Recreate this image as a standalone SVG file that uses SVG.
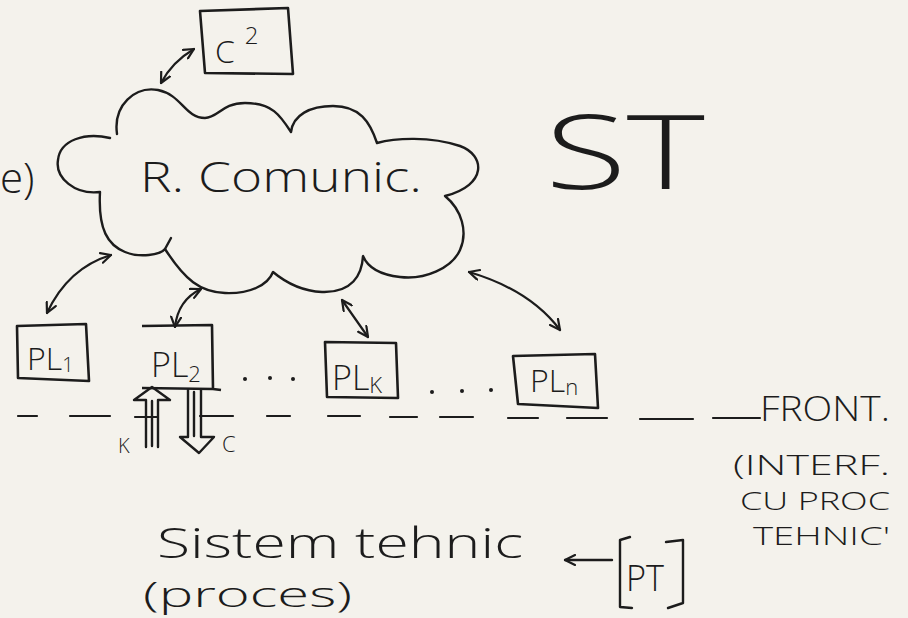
<svg xmlns="http://www.w3.org/2000/svg" width="908" height="618" viewBox="0 0 908 618">
  <defs>
    <marker id="ah" viewBox="0 0 12 12" refX="11" refY="6" markerWidth="12" markerHeight="12" markerUnits="userSpaceOnUse" orient="auto-start-reverse">
      <path d="M1,1 L11,6 L1,11" fill="none" stroke="#1c1c1c" stroke-width="2.2" stroke-linecap="round" stroke-linejoin="round"/>
    </marker>
    <style>
      .ink { fill: none; stroke: #1c1c1c; stroke-width: 2.4; stroke-linecap: round; stroke-linejoin: round; }
      .box { fill: none; stroke: #1c1c1c; stroke-width: 2.6; stroke-linejoin: round; }
      .arr { fill: none; stroke: #1c1c1c; stroke-width: 2.2; stroke-linecap: round; marker-start: url(#ah); marker-end: url(#ah); }
      .dash { stroke: #1c1c1c; stroke-width: 2.2; stroke-linecap: round; }
      .t { font-family: "Open Sans", "Liberation Sans", sans-serif; font-weight: 300; fill: #1c1c1c; }
      .dot { fill: #1c1c1c; }
    </style>
  </defs>
  <rect width="908" height="618" fill="#f4f2ec"/>

  <!-- Communication network cloud -->
  <g id="rcomunic">
    <path class="ink" d="M117,134 C113,105 135,86 158,90 C182,95 185,118 205,118 C218,118 222,103 245,103 C272,103 280,115 291,132 C293,115 310,106 333,106 C360,106 370,122 377,143 C395,138 430,136 460,146 C485,155 488,185 445,196 C462,210 468,232 460,250 C452,268 425,280 400,277 C382,275 368,268 363,256 C362,275 352,293 322,292 C300,291 285,282 273,272 C268,285 250,294 225,293 C200,292 185,280 165,249 C160,255 140,258 125,252 C108,245 98,230 100,192 C75,195 55,178 58,160 C60,140 85,132 110,138"/>
    <path class="ink" d="M165,249 L171,238"/>
    <text class="t" x="140" y="192" font-size="42" textLength="282" lengthAdjust="spacingAndGlyphs">R. Comunic.</text>
  </g>

  <g id="c2">
    <path class="box" d="M200,11 L288,8 L293,74 L205,73 Z"/>
    <text class="t" x="215" y="63" font-size="32">C<tspan dx="10" dy="-19" font-size="24">2</tspan></text>
  </g>

  <g id="pl1">
    <path class="box" d="M17,326 L86,324 L89,381 L18,378 Z"/>
    <text class="t" x="27" y="370" font-size="32">PL<tspan dy="2" font-size="20">1</tspan></text>
  </g>

  <g id="pl2">
    <path class="box" d="M142,326 L212,325 L213,389 L142,388 M213,389 L221,390"/>
    <text class="t" x="151" y="377" font-size="34">PL<tspan dy="5" font-size="22">2</tspan></text>
  </g>

  <g id="plk">
    <path class="box" d="M325,342 L396,343 L398,398 L327,397 Z"/>
    <text class="t" x="332" y="390" font-size="34">PL<tspan dy="3" font-size="22">K</tspan></text>
  </g>

  <g id="pln">
    <path class="box" d="M513,356 L595,354 L598,408 L518,404 Z"/>
    <text class="t" x="530" y="392" font-size="32">PL<tspan dy="3" font-size="22">n</tspan></text>
  </g>

  <g id="pt">
    <path class="ink" d="M630,537 L620,540 L620,607 L632,608"/>
    <path class="ink" d="M666,542 L683,540 L683,603 L668,608"/>
    <text class="t" x="626" y="591" font-size="36" textLength="38" lengthAdjust="spacingAndGlyphs">PT</text>
  </g>

  <g id="connectors">
    <path class="arr" d="M161,83 Q172,62 194,49"/>
    <path class="arr" d="M47,313 Q68,268 111,255"/>
    <path class="arr" d="M175,327 Q178,300 201,289"/>
    <path class="arr" d="M342,300 L368,337"/>
    <path class="arr" d="M469,272 Q530,290 560,330"/>
    <path class="ink" d="M612,560 L565,560" marker-end="url(#ah)"/>
    <!-- K: hollow arrow up -->
    <path class="ink" d="M146,447 L146,400 L134,400 L152,387 L170,400 L158,400 L158,447"/>
    <path class="ink" d="M152,401 L152,446" stroke-width="4"/>
    <!-- C: hollow arrow down -->
    <path class="ink" d="M188,390 L188,437 L180,437 L199,453 L214,437 L201,437 L201,390"/>
    <path class="ink" d="M194,392 L194,436" stroke-width="3"/>
  </g>

  <g id="front-line">
    <path class="dash" d="M18,416 H37 M70,416 H110 M135,417 H157 M200,416 H233 M267,416 H290 M328,416 H360 M390,417 H417 M440,417 H473 M508,418 H538 M567,418 H607 M640,419 H693 M713,418 H760"/>
  </g>

  <g id="dots">
    <circle class="dot" cx="245" cy="379" r="2"/>
    <circle class="dot" cx="270" cy="378" r="2"/>
    <circle class="dot" cx="293" cy="379" r="2"/>
    <circle class="dot" cx="432" cy="392" r="2"/>
    <circle class="dot" cx="462" cy="391" r="2"/>
    <circle class="dot" cx="491" cy="390" r="2"/>
  </g>

  <g id="labels">
    <text class="t" x="0" y="193" font-size="42">e)</text>
    <text class="t" x="545" y="189" font-size="104" textLength="160" lengthAdjust="spacingAndGlyphs">ST</text>
    <text class="t" x="118" y="453" font-size="20">K</text>
    <text class="t" x="222" y="452" font-size="22">C</text>
    <text class="t" x="760" y="421" font-size="34" textLength="130" lengthAdjust="spacingAndGlyphs">FRONT.</text>
    <text class="t" x="733" y="475" font-size="27" textLength="157" lengthAdjust="spacingAndGlyphs">(INTERF.</text>
    <text class="t" x="740" y="510" font-size="25" textLength="150" lengthAdjust="spacingAndGlyphs">CU PROC</text>
    <text class="t" x="753" y="545" font-size="25" textLength="137" lengthAdjust="spacingAndGlyphs">TEHNIC'</text>
    <text class="t" x="157" y="558" font-size="42" textLength="366" lengthAdjust="spacingAndGlyphs">Sistem tehnic</text>
    <text class="t" x="143" y="607" font-size="34" textLength="209" lengthAdjust="spacingAndGlyphs">(proces)</text>
  </g>
</svg>
